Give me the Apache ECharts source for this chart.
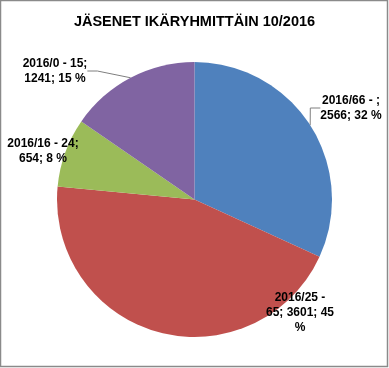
<!DOCTYPE html>
<html><head><meta charset="utf-8">
<script src="https://cdn.jsdelivr.net/npm/echarts@6/dist/echarts.min.js"></script>
<style>html,body{margin:0;padding:0;background:#fff}#c{width:389px;height:368px}</style>
</head><body><div id="c"></div>
<script>
const title = 'JÄSENET IKÄRYHMITTÄIN 10/2016';
const categories = ['2016/66 - ', '2016/25 - 65', '2016/16 - 24', '2016/0 - 15'];
const values = [2566, 3601, 654, 1241];
const percents = [32, 45, 8, 15];
const labelTexts = [
  '2016/66 - ;\n2566; 32 %',
  '2016/25 -\n65; 3601; 45\n%',
  '2016/16 - 24;\n654; 8 %',
  '2016/0 - 15;\n1241; 15 %'
];
const colors = ['#4F81BD', '#C0504D', '#9BBB59', '#8064A2'];
const labelPos = [[351, 93], [300, 290], [43, 136], [55, 56]];
const showLine = [true, false, false, true];

const chart = echarts.init(document.getElementById('c'), null, {renderer: 'canvas'});
chart.setOption({
  animation: false,
  title: {
    text: title, left: 'center', top: 9,
    textStyle: {fontFamily: 'Liberation Sans', fontWeight: 'bold', fontSize: 14.5, color: '#000'}
  },
  graphic: [{
    type: 'rect', shape: {x: 0.5, y: 0.5, width: 387, height: 366},
    style: {fill: 'none', stroke: '#8a8a8a', lineWidth: 1.5}, silent: true
  }],
  series: [{
    type: 'pie',
    center: [194.5, 199.5],
    radius: 137.5,
    startAngle: 90,
    clockwise: true,
    data: categories.map((c, i) => ({
      name: c, value: values[i],
      itemStyle: {color: colors[i]},
      label: {formatter: labelTexts[i]},
      labelLine: {show: showLine[i]}
    })),
    label: {
      show: true, position: 'outside', color: '#000',
      fontFamily: 'Liberation Sans', fontWeight: 'bold', fontSize: 12, lineHeight: 15,
      align: 'center', overflow: 'none'
    },
    labelLine: {show: true, lineStyle: {color: '#7f7f7f', width: 1}, length: 10, length2: 10},
    labelLayout: function (p) {
      const pos = labelPos[p.dataIndex];
      return {x: pos[0], y: pos[1], align: 'center', verticalAlign: 'top'};
    },
    emphasis: {disabled: true}
  }]
});
</script></body></html>
